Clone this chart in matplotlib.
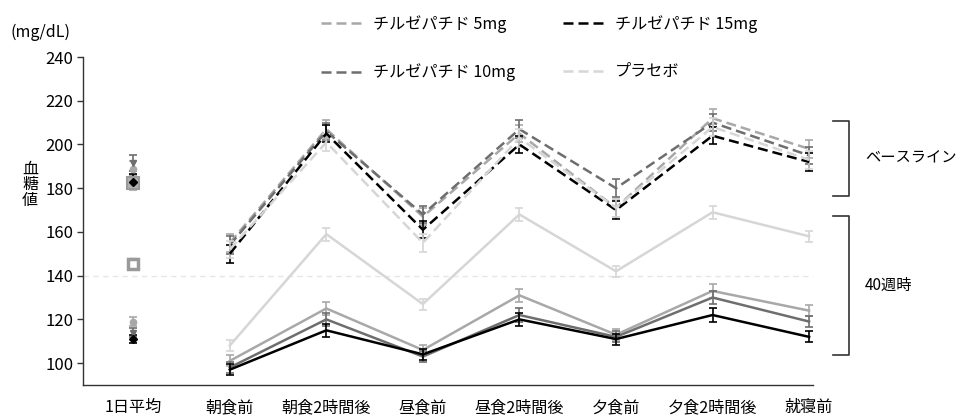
import matplotlib
matplotlib.use("Agg")
import matplotlib.pyplot as plt
import numpy as np

plt.rcParams['font.family'] = ['Noto Sans CJK JP', 'DejaVu Sans']

timepoints = ['1日平均', '朝食前', '朝食2時間後', '昼食前', '昼食2時間後', '夕食前', '夕食2時間後', '就寝前']
series_names = ['チルゼパチド 5mg', 'チルゼパチド 10mg', 'チルゼパチド 15mg', 'プラセボ']
colors = ['#a8a8a8', '#6e6e6e', '#000000', '#d6d6d6']
avg_markers = ['o', 'v', 'D', 's']

# Baseline (dashed), time points 朝食前..就寝前
base_5 = [155, 207, 167, 205, 171, 212, 198]
base_10 = [154, 206, 168, 207, 180, 210, 195]
base_15 = [150, 205, 161, 200, 170, 204, 192]
base_pl = [152, 201, 155, 203, 171, 208, 193]
base_err = [4, 4, 4, 4, 4, 4, 4]

# Week 40 (solid)
w40_5 = [101, 125, 106, 131, 113, 133, 124]
w40_10 = [98, 120, 103, 122, 112, 130, 119]
w40_15 = [97, 115, 104, 120, 111, 122, 112]
w40_pl = [108, 159, 127, 168, 142, 169, 158]
w40_err = [2.5, 3, 2.5, 3, 2.5, 3, 2.5]

# Daily average (1日平均)
avg_base = [189, 191.5, 183, 182.5]
avg_w40 = [119, 114, 111, 145.5]
avg_err_base = [3.5, 3.5, 3.5, 3.5]
avg_err_w40 = [2, 2, 2, 2]

base_all = [base_5, base_10, base_15, base_pl]
w40_all = [w40_5, w40_10, w40_15, w40_pl]

fig = plt.figure(figsize=(9.63, 4.18), dpi=100)
ax = fig.add_axes([0.0862, 0.079, 0.758, 0.7846])

x_meal = np.arange(1, len(timepoints))

ax.axhline(140, color='#e6e6e6', lw=1, ls=(0, (4, 3)), zorder=0)

handles = []
for i in range(4):
    c = colors[i]
    lw = 1.8
    ax.errorbar(x_meal, w40_all[i], yerr=w40_err, color=c, lw=lw, ls='-',
                elinewidth=1.2, capsize=3, capthick=1.2, zorder=2 + i * 0.1)
    eb = ax.errorbar(x_meal, base_all[i], yerr=base_err, color=c, lw=lw, ls=(0, (4, 2)),
                     elinewidth=1.2, capsize=3, capthick=1.2, zorder=3 + i * 0.1)
    handles.append(eb[0])

# daily averages
for i in [3, 0, 1, 2]:
    c = colors[i]
    for vals, errs, base in ((avg_base, avg_err_base, True), (avg_w40, avg_err_w40, False)):
        if i == 3:
            if base:
                mkw = dict(marker='s', ms=8, mfc='#b0b0b0', mec='#9a9a9a', mew=1.5)
            else:
                mkw = dict(marker='s', ms=7, mfc='white', mec='#9a9a9a', mew=2.5)
            ec = '#b8b8b8'
        else:
            mkw = dict(marker=avg_markers[i], ms=4.5, mfc=c, mec=c)
            ec = c
        ax.errorbar([0], [vals[i]], yerr=[errs[i]], color=ec, ls='none',
                    elinewidth=1.2, capsize=3, capthick=1.2, zorder=4, **mkw)

ax.set_xlim(-0.52, 7.04)
ax.set_ylim(90, 240)
ax.set_yticks([100, 120, 140, 160, 180, 200, 220, 240])
ax.set_xticks(np.arange(len(timepoints)))
ax.set_xticklabels(timepoints)
ax.tick_params(axis='x', length=0, pad=10, labelsize=11.6)
ax.tick_params(axis='y', length=4, width=1, pad=3, labelsize=12, color='#333333')
for s in ('top', 'right'):
    ax.spines[s].set_visible(False)
for s in ('left', 'bottom'):
    ax.spines[s].set_color('#333333')
    ax.spines[s].set_linewidth(1)

def bracket(y0, y1, label):
    xv, xh = 7.414, 7.249
    ax.plot([xh, xv, xv, xh], [y0, y0, y1, y1], color='#333333', lw=1.2, clip_on=False)
    ax.text(7.58, (y0 + y1) / 2, label, ha='left', va='center', fontsize=11, clip_on=False)

bracket(210.8, 176.6, 'ベースライン')
bracket(167.5, 103.6, '40週時')

fig.text(10 / 963, 1 - 32 / 418, '(mg/dL)', ha='left', va='center', fontsize=11.5)
fig.text(30 / 963, 1 - 185 / 418, '血\n糖\n値', ha='center', va='center', fontsize=11.5, linespacing=0.9)

leg = fig.legend(handles, series_names,
                 ncol=2, loc='upper left', bbox_to_anchor=(321 / 963, 1 - 15 / 418),
                 frameon=False, fontsize=11.6, handlelength=2.5, handletextpad=0.7,
                 columnspacing=3.0, labelspacing=1.9, borderpad=0, borderaxespad=0)

fig.savefig('out.png', dpi=100)
